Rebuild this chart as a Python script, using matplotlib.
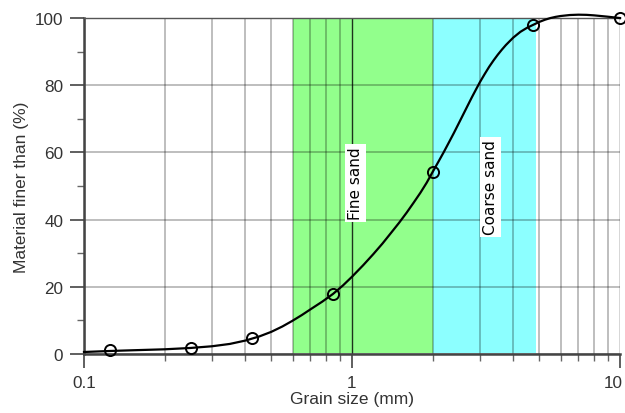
import matplotlib.pyplot as plt
from matplotlib.ticker import FixedLocator, NullFormatter
from matplotlib.transforms import ScaledTranslation

# sieve results
sieve_mm = [0.125, 0.25, 0.425, 0.85, 2.0, 4.75, 10.0]
finer_pct = [1.3, 1.9, 4.7, 17.9, 54.3, 97.8, 100.0]

# gradation curve
curve_mm = [0.1, 0.125, 0.15, 0.2, 0.25, 0.3, 0.35, 0.4, 0.45, 0.5, 0.55, 0.6,
            0.65, 0.7, 0.775, 0.85, 0.925, 1.0, 1.1, 1.2, 1.3, 1.4, 1.5, 1.6,
            1.7, 1.8, 1.9, 2.0, 2.1, 2.2, 2.3, 2.4, 2.5, 2.6, 2.7, 2.8, 2.9,
            3.0, 3.125, 3.25, 3.375, 3.5, 3.625, 3.75, 3.875, 4.0, 4.25, 4.5,
            4.75, 5.0, 5.25, 5.5, 5.75, 6.0, 6.5, 7.0, 7.5, 8.0, 9.0, 10.0]
curve_pct = [0.6, 0.9, 1.1, 1.4, 1.8, 2.3, 3.0, 4.0, 5.2, 6.6, 8.2, 9.9,
             11.6, 13.3, 15.6, 17.9, 20.4, 23.0, 26.4, 29.7, 32.9, 36.1, 39.1, 42.1,
             45.1, 48.0, 51.0, 54.2, 57.2, 60.1, 63.0, 65.8, 68.6, 71.3, 73.9, 76.4,
             78.7, 80.9, 83.3, 85.5, 87.4, 89.1, 90.6, 91.95, 93.1, 94.2, 95.9, 97.1,
             98.0, 98.85, 99.5, 100.0, 100.35, 100.6, 100.9, 101.0, 100.95, 100.8, 100.4, 100.0]

bands = [(0.6, 2.0, '#92ff8c', 'Fine sand', 1.03, 51),
         (2.0, 4.85, '#8cffff', 'Coarse sand', 3.29, 49.7)]

plt.rcParams['font.family'] = ['Liberation Sans', 'DejaVu Sans']

fig = plt.figure(figsize=(6.25, 4.14), dpi=100)
ax = fig.add_axes([0.1344, 0.1425, 0.8576, 0.8115])

for lo, hi, col, name, tx, ty in bands:
    ax.axvspan(lo, hi, ymin=0.003, ymax=1, color=col, lw=0, zorder=0)
    ax.text(tx, ty, name, rotation=90, ha='center', va='center', fontsize=11,
            family='DejaVu Sans', color='black',
            bbox=dict(facecolor='white', edgecolor='none', pad=2), zorder=3)

ax.set_xscale('log')
ax.set_xlim(0.1, 10)
ax.set_ylim(0, 100)

ax.xaxis.set_major_locator(FixedLocator([0.1, 1, 10]))
ax.xaxis.set_minor_locator(FixedLocator([k * d for d in (0.1, 1) for k in range(2, 10)]))
ax.xaxis.set_minor_formatter(NullFormatter())
ax.set_xticklabels(['0.1', '1', '10'])
ax.yaxis.set_major_locator(FixedLocator([0, 20, 40, 60, 80, 100]))
ax.yaxis.set_minor_locator(FixedLocator([10, 30, 50, 70, 90]))

ax.grid(True, which='major', axis='x', color='black', alpha=0.8, lw=1.0, zorder=1)
ax.grid(True, which='minor', axis='x', color='black', alpha=0.28, lw=1.3, zorder=1)
ax.grid(True, which='major', axis='y', color='black', alpha=0.28, lw=1.3, zorder=1)
ax.set_axisbelow(True)

ax.plot(curve_mm, curve_pct, color='black', lw=1.6, zorder=4, clip_on=False,
        solid_joinstyle='round')
ax.plot(sieve_mm, finer_pct, 'o', ms=8, mfc='none', mec='black', mew=1.4,
        zorder=5, clip_on=False)

for side in ('left', 'bottom'):
    ax.spines[side].set_linewidth(1.8)
    ax.spines[side].set_color('#444444')
ax.spines['top'].set_linewidth(1.0)
ax.spines['top'].set_color('#555555')
ax.spines['right'].set_visible(False)

ax.tick_params(which='major', length=10, width=1.2, color='#444444',
               labelsize=12.3, labelcolor='#333333', pad=5)
ax.tick_params(which='minor', length=5, width=1.0, color='#666666')

# keep the last x label inside the canvas
last = ax.get_xticklabels()[-1]
last.set_transform(last.get_transform() + ScaledTranslation(-5 / 72, 0, fig.dpi_scale_trans))

ax.set_xlabel('Grain size (mm)', fontsize=12.5, color='#333333', labelpad=1)
ax.set_ylabel('Material finer than (%)', fontsize=12.5, color='#333333', labelpad=4)

plt.savefig('out.png', dpi=100)
